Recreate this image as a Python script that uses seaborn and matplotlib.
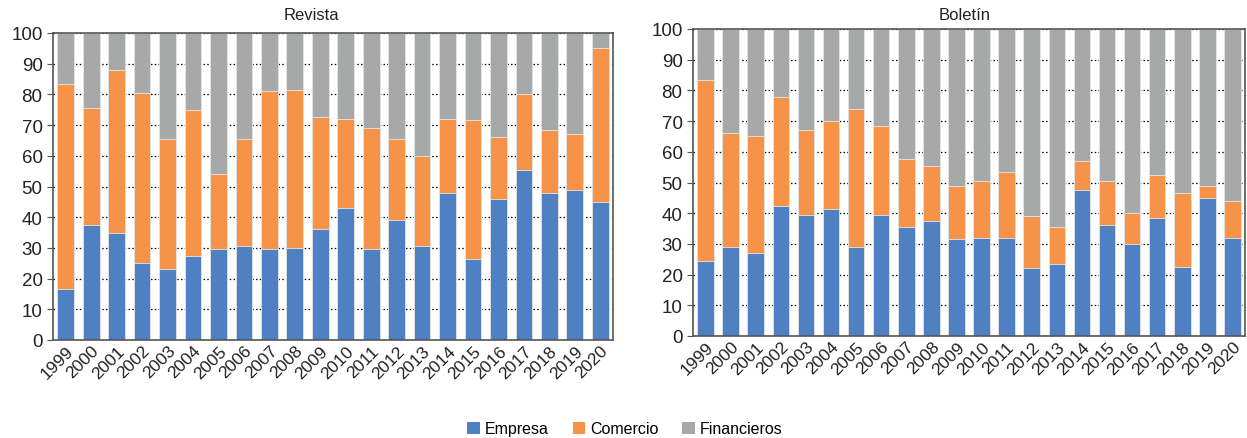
import matplotlib.pyplot as plt
import seaborn as sns
import pandas as pd
from matplotlib.patches import Patch

years = [str(y) for y in range(1999, 2021)]

# Revista
rev_empresa = [16.5, 37.5, 35, 25, 23, 27.5, 29.5, 30.5, 29.5, 30, 36,
               43, 29.5, 39, 30.5, 48, 26.5, 46, 55.5, 48, 49, 45]
rev_comercio = [67, 38, 53, 55.5, 42.5, 47.5, 24.5, 35, 51.5, 51.5, 36.5,
                29, 39.5, 26.5, 29.5, 24, 45, 20, 24.5, 20.5, 18, 50]
rev_financieros = [16.5, 24.5, 12, 19.5, 34.5, 25, 46, 34.5, 19, 18.5, 27.5,
                   28, 31, 34.5, 40, 28, 28.5, 34, 20, 31.5, 33, 5]

# Boletín
bol_empresa = [24.5, 29, 27, 42.5, 39.5, 41.5, 29, 39.5, 35.5, 37.5, 31.5,
               32, 32, 22, 23.5, 47.5, 36, 30, 38.5, 22.5, 45, 32]
bol_comercio = [59, 37, 38, 35.5, 27.5, 28.5, 45, 29, 22, 18, 17.5,
                18.5, 21.5, 17, 12, 9.5, 14.5, 10, 14, 24, 4, 12]
bol_financieros = [16.5, 34, 35, 22, 33, 30, 26, 31.5, 42.5, 44.5, 51,
                   49.5, 46.5, 61, 64.5, 43, 49.5, 60, 47.5, 53.5, 51, 56]

series = ['Empresa', 'Comercio', 'Financieros']
colors = {'Empresa': '#4F81C2', 'Comercio': '#F79249', 'Financieros': '#A6A9A8'}

plt.rcParams['font.family'] = ['Liberation Sans', 'DejaVu Sans']

W, H = 1247, 439
fig = plt.figure(figsize=(W / 100, H / 100), dpi=100)
ax1 = fig.add_axes([53 / W, 1 - 341 / H, 560 / W, 307 / H])
ax2 = fig.add_axes([693 / W, 1 - 337 / H, 552 / W, 307 / H])


def draw(ax, emp, com, fin, title, tx):
    df = pd.DataFrame({'year': years, 'Empresa': emp, 'Comercio': com, 'Financieros': fin})
    df['c2'] = df['Empresa'] + df['Comercio']
    df['c3'] = df['c2'] + df['Financieros']
    # stacked: draw totals first, then overlay lower segments
    for col, key in [('c3', 'Financieros'), ('c2', 'Comercio'), ('Empresa', 'Empresa')]:
        sns.barplot(data=df, x='year', y=col, color=colors[key], width=0.66,
                    edgecolor='#E6E6E6', linewidth=0.6, saturation=1, ax=ax, zorder=2)
    ax.set_ylim(0, 100)
    ax.set_xlim(-0.5, len(years) - 0.5)
    ax.set_yticks(range(0, 101, 10))
    ax.yaxis.grid(True, linestyle=(0, (1.2, 1.8)), color='black', linewidth=0.9, zorder=1)
    ax.set_axisbelow(True)
    ax.set_xlabel('')
    ax.set_ylabel('')
    fig.text(tx / W, 1 - 16 / H, title, fontsize=12, color='#222222', ha='center', va='center')
    ax.tick_params(axis='y', labelsize=13.5, length=4, color='#555555', labelcolor='#222222')
    ax.tick_params(axis='x', labelsize=12.5, length=0, pad=2, labelcolor='#222222')
    plt.setp(ax.get_xticklabels(), rotation=45, ha='right', rotation_mode='anchor')
    for s in ax.spines.values():
        s.set_color('#555555')
        s.set_linewidth(1.2)


draw(ax1, rev_empresa, rev_comercio, rev_financieros, 'Revista', 311)
draw(ax2, bol_empresa, bol_comercio, bol_financieros, 'Boletín', 965)

handles = [Patch(facecolor=colors[s], label=s) for s in series]
fig.legend(handles=handles, loc='center', bbox_to_anchor=(625 / W, 1 - 430 / H),
           ncol=3, frameon=False, fontsize=11.5, handlelength=0.8, handleheight=0.8,
           handletextpad=0.3, columnspacing=1.5)

fig.savefig('out.png', dpi=100)
